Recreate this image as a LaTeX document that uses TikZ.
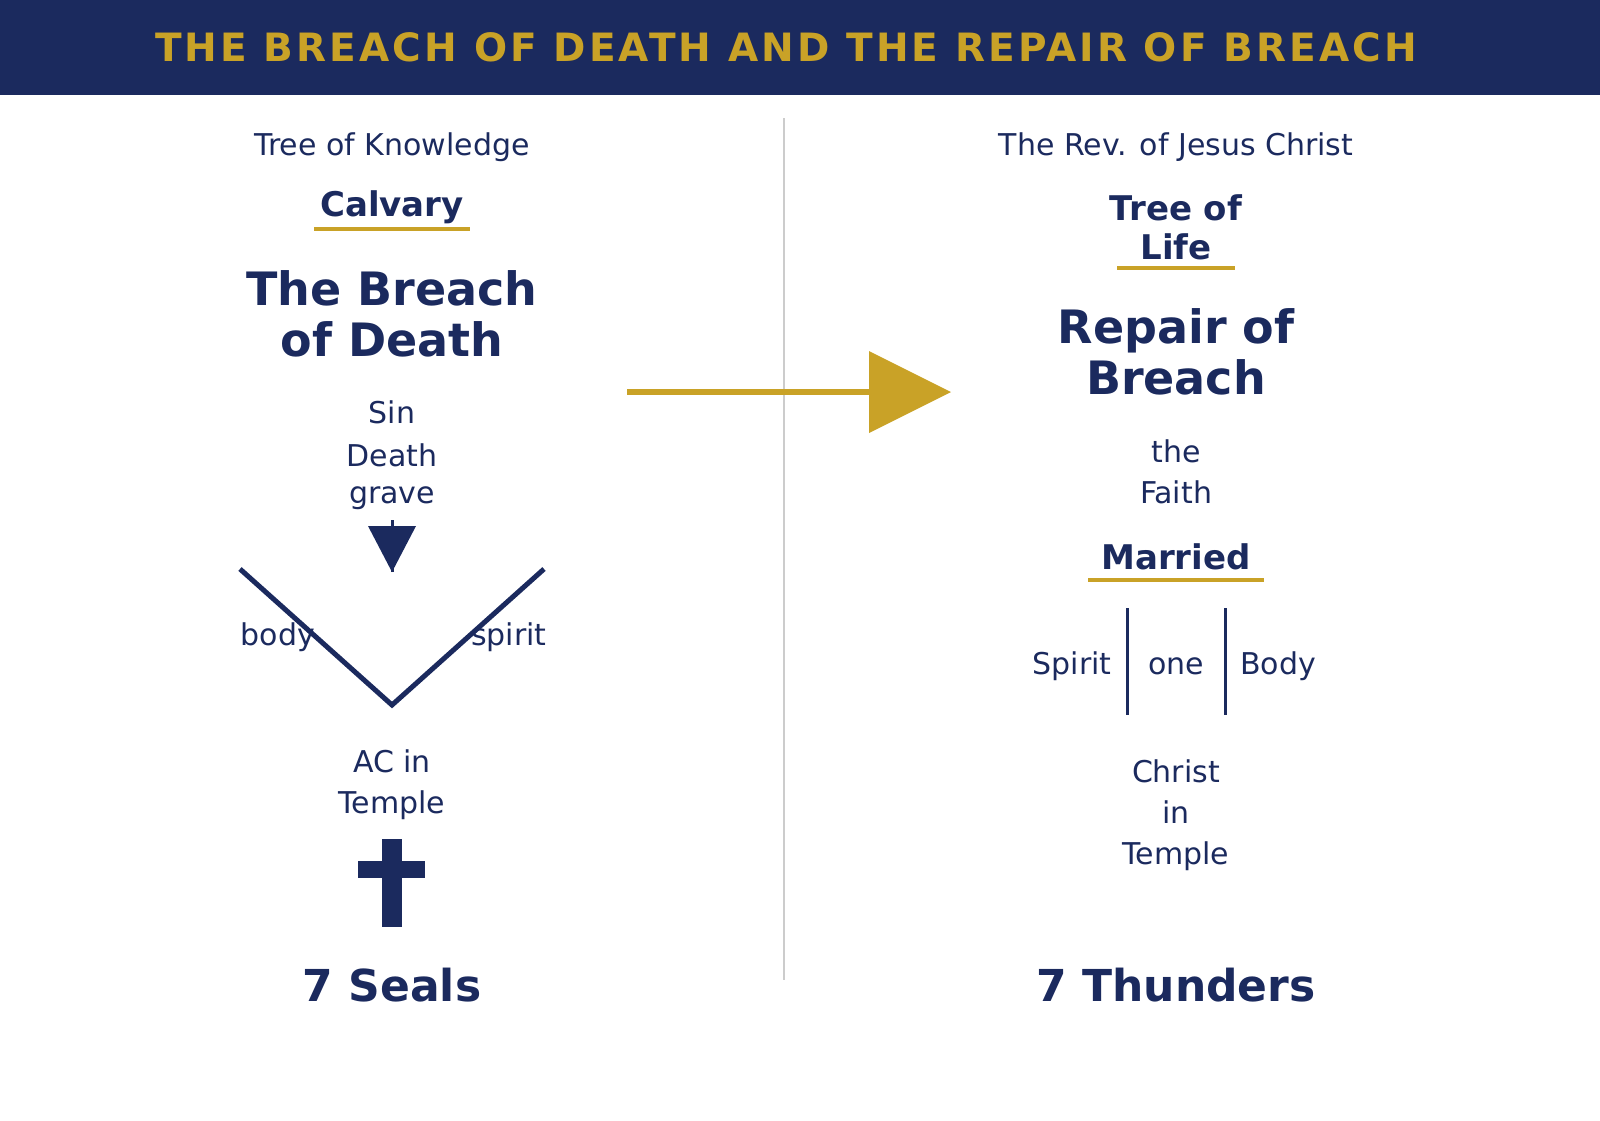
\documentclass[tikz,border=0pt]{standalone}
\usepackage{fontspec}
\setmainfont{DejaVu Sans}
\definecolor{navy}{HTML}{1B2A5E}
\definecolor{gold}{HTML}{C9A227}
\begin{document}
\begin{tikzpicture}[x=1pt,y=-1pt,
 t/.style={text=navy,font=\fontsize{30}{41}\selectfont,align=center,inner sep=0pt},
 b/.style={text=navy,font=\bfseries\fontsize{34}{39}\selectfont,align=center,inner sep=0pt},
 h/.style={text=navy,font=\bfseries\fontsize{46}{51}\selectfont,align=center,inner sep=0pt},
 ul/.style={gold,line width=4pt},
 nv/.style={navy,line width=5pt}]
\useasboundingbox (0,0) rectangle (1600,1120);
\fill[navy] (0,0) rectangle (1600,95);
\node[text=gold,font=\bfseries\fontsize{39}{40}\selectfont\addfontfeature{LetterSpace=8}] (title) at (786,47) {THE BREACH OF DEATH AND THE REPAIR OF BREACH};
\draw[gray!40,line width=1.5pt] (784,118) coordinate (d1) -- (784,980) coordinate (d2);
% left
\node[t] (tk) at (392,147) {Tree of Knowledge};
\node[b] (cal) at (392,207) {Calvary};
\draw[ul] (314,229) coordinate (c1) -- (470,229) coordinate (c2);
\node[h] (bd) at (392,314) {The Breach\\of Death};
\node[t] (sin) at (392,412) {Sin};
\node[t] (dea) at (392,455) {Death};
\node[t] (gra) at (392,498) {grave};
\fill[navy] (368,526) coordinate (a1) -- (416,526) coordinate (a2) -- (392,572) coordinate (a3) -- cycle;
\draw[navy,line width=3pt] (392,520) -- (a3);
\draw[nv] (240,569) coordinate (v1) -- (392,705) coordinate (v2) -- (544,569) coordinate (v3);
\node[t] (body) at (278,637) {body};
\node[t] (spi) at (509,637) {spirit};
\node[t] (ac) at (392,785) {AC in\\Temple};
\fill[navy] (382,839) rectangle (402,927);
\fill[navy] (358,861) rectangle (425,878);
\node[h,font=\bfseries\fontsize{44}{48}\selectfont] (s7) at (392,985) {7 Seals};
% arrow
\draw[gold,line width=6pt] (627,392) coordinate (ar1) -- (872,392) coordinate (ar2);
\fill[gold] (869,351) -- (951,392) -- (869,433) -- cycle;
% right
\node[t] (rev) at (1176,147) {The Rev. of Jesus Christ};
\node[b] (tol) at (1176,227) {Tree of\\Life};
\draw[ul] (1117,268) coordinate (t1) -- (1235,268) coordinate (t2);
\node[h] (rep) at (1176,352) {Repair of\\Breach};
\node[t] (the) at (1176,451) {the};
\node[t] (fai) at (1176,492) {Faith};
\node[b] (mar) at (1176,557) {Married};
\draw[ul] (1088,580) coordinate (m1) -- (1264,580) coordinate (m2);
\node[t] (sp) at (1072,666) {Spirit};
\node[t] (one) at (1176,666) {one};
\node[t] (bo) at (1278,666) {Body};
\draw[navy,line width=3pt] (1127,608) coordinate (l1) -- (1127,715) coordinate (l2);
\draw[navy,line width=3pt] (1225,608) coordinate (l3) -- (1225,715) coordinate (l4);
\node[t] (chr) at (1176,815) {Christ\\in\\Temple};
\node[h,font=\bfseries\fontsize{44}{48}\selectfont] (t7) at (1176,985) {7 Thunders};
\end{tikzpicture}
\end{document}
